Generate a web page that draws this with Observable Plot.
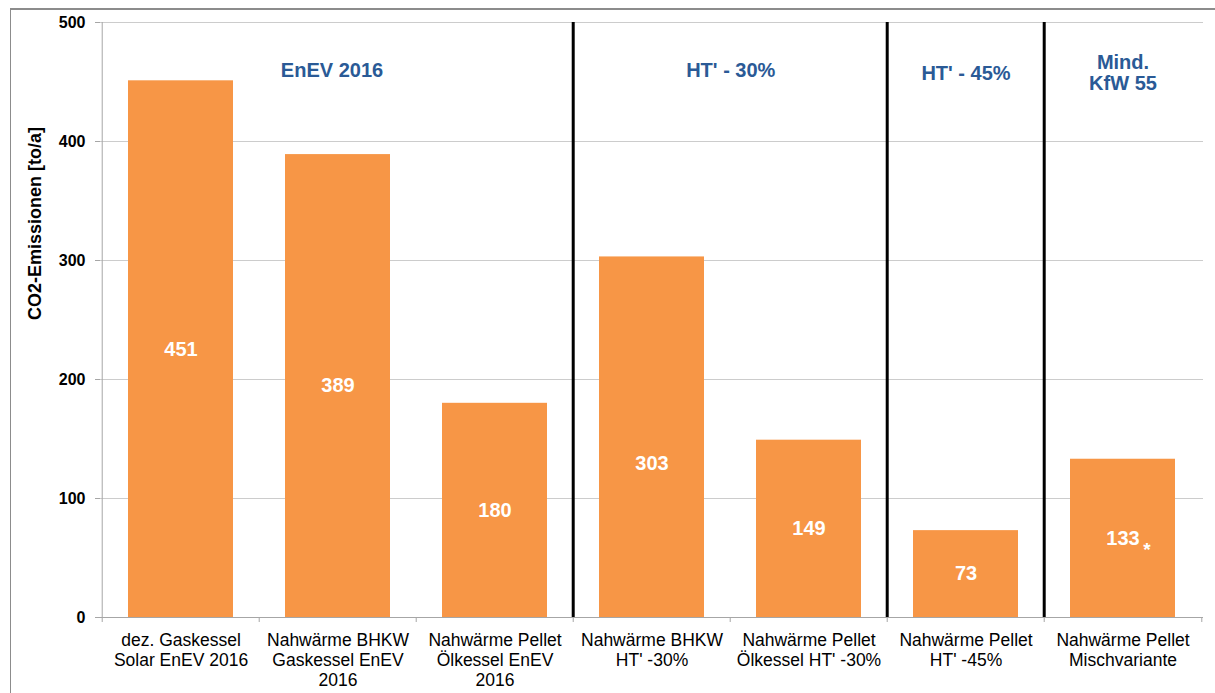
<!DOCTYPE html>
<html>
<head>
<meta charset="utf-8">
<script src="https://cdn.jsdelivr.net/npm/d3@7"></script>
<script src="https://cdn.jsdelivr.net/npm/@observablehq/plot@0.6"></script>
<style>
  html, body { margin: 0; padding: 0; background: #fff; overflow: hidden; }
  #wrap { position: relative; width: 1215px; height: 693px; }
  #border { position: absolute; left: 10px; top: 8px; right: 0; bottom: 0;
            border-top: 2px solid #8c8c8c; border-left: 1px solid #8c8c8c; pointer-events: none; }
  #chart { position: absolute; left: 0; top: 0; }
</style>
</head>
<body>
<div id="wrap"><div id="border"></div><div id="chart"></div></div>
<script>
const categories = [
  "dez. Gaskessel\nSolar EnEV 2016",
  "Nahwärme BHKW\nGaskessel EnEV\n2016",
  "Nahwärme Pellet\nÖlkessel EnEV\n2016",
  "Nahwärme BHKW\nHT' -30%",
  "Nahwärme Pellet\nÖlkessel HT' -30%",
  "Nahwärme Pellet\nHT' -45%",
  "Nahwärme Pellet\nMischvariante"
];
const values = [451, 389, 180, 303, 149, 73, 133];
const groupLabels = ["EnEV 2016", "HT' - 30%", "HT' - 45%", "Mind.\nKfW 55"];
const separatorsBefore = [categories[3], categories[5], categories[6]];
const yTicks = [0, 100, 200, 300, 400, 500];
const yLabel = "CO2-Emissionen [to/a]";

const W = 1215, H = 693, mL = 100, mR = 12, mT = 22, mB = 76;
const step = (W - mL - mR) / categories.length;
const data = categories.map((c, i) => ({cat: c, v: values[i], i}));
const orange = "#F79646", blue = "#2a5a96", axisGray = "#a6a6a6";
const font = "'Liberation Sans', Arial, sans-serif";

const chart = Plot.plot({
  width: W, height: H,
  marginLeft: mL, marginRight: mR, marginTop: mT, marginBottom: mB,
  style: {fontFamily: font, background: "transparent", color: "black", overflow: "visible"},
  x: {domain: categories, paddingInner: 0.333, paddingOuter: 0.1667, label: null},
  y: {domain: [0, 500], label: null},
  marks: [
    Plot.ruleY(yTicks.filter(t => t > 0), {stroke: "#cccccc"}),
    Plot.barY(data, {x: "cat", y: "v", fill: orange}),
    Plot.ruleY([0], {stroke: axisGray}),
    Plot.ruleX([categories[0]], {dx: -step / 2, y1: 0, y2: 500, stroke: axisGray}),
    Plot.ruleX(categories, {dx: -step / 2, y1: 0, y2: 0, insetBottom: -5, stroke: axisGray}),
    Plot.ruleX([categories[categories.length - 1]], {dx: step / 2, y1: 0, y2: 0, insetBottom: -5, stroke: axisGray}),
    Plot.ruleX(separatorsBefore, {dx: -step / 2, y1: 0, y2: 500, stroke: "black", strokeWidth: 3}),
    Plot.axisY({ticks: yTicks, tickSize: 5, tickPadding: 10, fontSize: 16, fontWeight: "bold",
                stroke: axisGray, fill: "black", label: null}),
    Plot.axisX({tickSize: 0, tickPadding: 15, fontSize: 17.5, lineHeight: 1.12, fill: "black", label: null}),
    Plot.text(data.filter(d => d.i !== 3), {x: "cat", y: d => d.v / 2, text: d => String(d.v), fill: "white",
                     fontWeight: "bold", fontSize: 20}),
    Plot.text(data.filter(d => d.i === 3), {x: "cat", y: d => d.v / 2, text: d => String(d.v), fill: "white",
                     fontWeight: "bold", fontSize: 20, dy: 26}),
    Plot.text([data[6]], {x: "cat", y: d => d.v / 2, text: () => "*", fill: "white",
                          fontWeight: "bold", fontSize: 19, dx: 24, dy: 12}),
    Plot.text([groupLabels[0]], {x: () => categories[1], y: () => 460, text: d => d, dx: -6,
                                 fill: blue, fontWeight: "bold", fontSize: 20}),
    Plot.text([groupLabels[1]], {x: () => categories[3], y: () => 460, text: d => d, dx: step / 2,
                                 fill: blue, fontWeight: "bold", fontSize: 20}),
    Plot.text([groupLabels[2]], {x: () => categories[5], y: () => 457, text: d => d,
                                 fill: blue, fontWeight: "bold", fontSize: 20}),
    Plot.text([groupLabels[3]], {x: () => categories[6], y: () => 458, text: d => d, lineHeight: 1.05,
                                 fill: blue, fontWeight: "bold", fontSize: 20}),
    Plot.text([yLabel], {frameAnchor: "left", rotate: -90, dx: -65, text: d => d,
                         fontWeight: "bold", fontSize: 18, fill: "black"})
  ]
});
document.getElementById("chart").appendChild(chart);
</script>
</body>
</html>
